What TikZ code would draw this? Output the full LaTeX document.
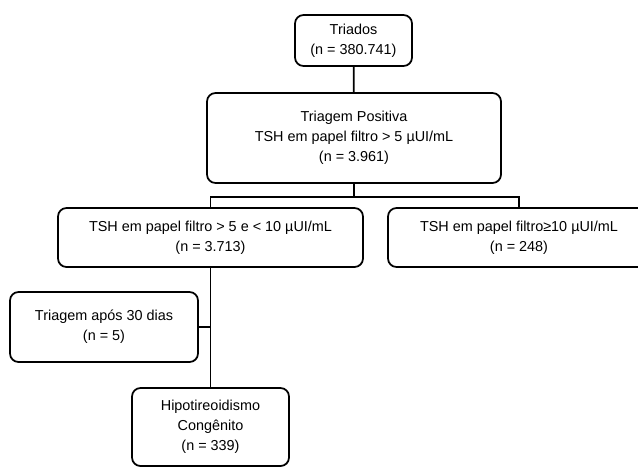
\documentclass[tikz,border=0pt]{standalone}
\usepackage{fontspec}
\setmainfont{Liberation Sans}
\newcommand\XM{7.07}
\newcommand\XL{4.21}
\newcommand\XR{10.38}
\newcommand\YS{-3.94}

\begin{document}
\begin{tikzpicture}
  [line width=1pt,
   stage/.style = {
     draw, rounded corners=0.17cm, align=center, inner sep=0pt,
     font=\fontsize{8.2}{11.3}\selectfont
   },
   wire/.style = {
     line width=1pt
   }]

  \clip (0,0) rectangle (12.76,-9.32);

  % Top of the tree.
  \node[stage, minimum width=2.34cm, minimum height=1.02cm] at (\XM, -0.81) (triados) {Triados\\(n = 380.741)};
  \node[stage, minimum width=5.88cm, minimum height=1.80cm] at (7.08, -2.76) (positiva) {Triagem Positiva\\TSH em papel filtro > 5 µUI/mL\\(n = 3.961)};

  % Split by TSH level.
  \node[stage, minimum width=6.10cm, minimum height=1.18cm] at (\XL, -4.75) (medio) {TSH em papel filtro > 5 e < 10 µUI/mL\\(n = 3.713)};
  \node[stage, minimum width=5.24cm, minimum height=1.18cm] at (\XR, -4.75) (alto) {TSH em papel filtro≥10 µUI/mL\\(n = 248)};

  % Follow up.
  \node[stage, minimum width=3.76cm, minimum height=1.40cm] at (2.08, -6.54) (apos) {Triagem após 30 dias\\(n = 5)};
  \node[stage, minimum width=3.14cm, minimum height=1.56cm] at (\XL, -8.54) (hipo) {Hipotireoidismo\\Congênito\\(n = 339)};

  \coordinate (split) at (positiva.south |- 0, \YS);

  % Draw all wires.
  \draw[wire] (triados) -- (positiva);
  \draw[wire] (positiva) -- (split);
  \draw[wire] (medio.north) |- (split) -| (alto.north);
  \draw[wire] (medio) -- (hipo);
  \draw[wire] (apos.east) -- (apos.east -| medio.south);

\end{tikzpicture}
\end{document}
